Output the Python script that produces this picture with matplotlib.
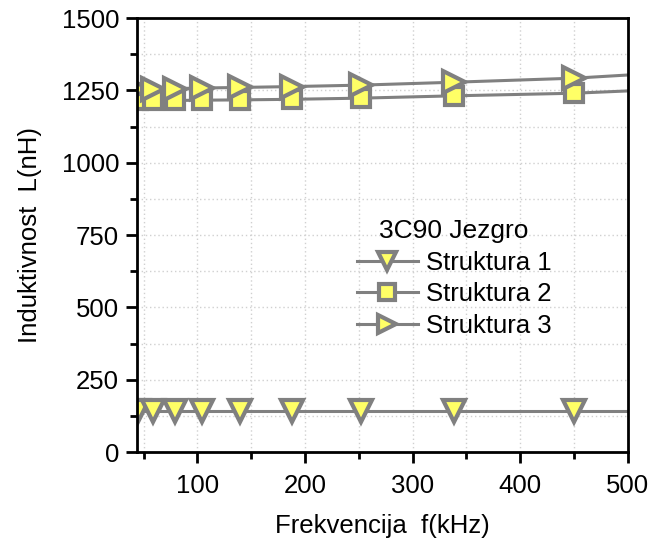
import matplotlib
matplotlib.use('Agg')
import matplotlib.pyplot as plt
from matplotlib.ticker import MultipleLocator

plt.rcParams['font.family'] = ['Liberation Sans', 'DejaVu Sans']

# frequency points (kHz); last point is only the line end at 500 kHz
freq = [45, 59, 79, 104, 140, 188, 252, 338, 450, 500]
struktura1 = [140, 140, 140, 140, 140, 140, 140, 140, 140, 140]
struktura2 = [1215, 1215, 1215, 1216, 1217, 1219, 1223, 1231, 1240, 1248]
struktura3 = [1255, 1255, 1256, 1258, 1260, 1263, 1268, 1278, 1292, 1303]

legend_title = '3C90 Jezgro'
names = ['Struktura 1', 'Struktura 2', 'Struktura 3']

fig = plt.figure(figsize=(6.5, 5.39), dpi=100)
ax = fig.add_axes([0.211, 0.1614, 0.755, 0.8052])

style = dict(color='#808080', lw=2.2, mfc='#ffff66', mec='#808080', mew=3,
             ms=16, markevery=list(range(9)))
ax.plot(freq, struktura1, marker='v', label=names[0], **style)
ax.plot(freq, struktura2, marker='s', label=names[1], **dict(style, ms=13))
ax.plot(freq, struktura3, marker='>', label=names[2], **style)

ax.set_xlim(44, 500)
ax.set_ylim(0, 1500)
ax.xaxis.set_major_locator(MultipleLocator(100))
ax.xaxis.set_minor_locator(MultipleLocator(50))
ax.yaxis.set_major_locator(MultipleLocator(250))
ax.yaxis.set_minor_locator(MultipleLocator(125))

ax.grid(True, which='both', color='#d0d0d0', ls=(0, (1, 2)), lw=1)
ax.set_axisbelow(True)
for s in ax.spines.values():
    s.set_linewidth(2)
ax.tick_params(which='both', direction='out', width=2, labelsize=18.5)
ax.tick_params(which='major', length=8)
ax.tick_params(which='minor', length=5)
ax.tick_params(axis='x', pad=8)
ax.tick_params(axis='y', pad=5)

ax.set_xlabel('Frekvencija  f(kHz)', fontsize=18.5, labelpad=11)
ax.set_ylabel('Induktivnost  L(nH)', fontsize=18.5, labelpad=14)

leg = ax.legend(title=legend_title, loc='upper left', bbox_to_anchor=(0.40, 0.59),
                frameon=False, fontsize=18.5, title_fontsize=19,
                handlelength=2.4, handletextpad=0.3, labelspacing=0.3,
                markerscale=0.85)

plt.savefig('out.png', dpi=100)
